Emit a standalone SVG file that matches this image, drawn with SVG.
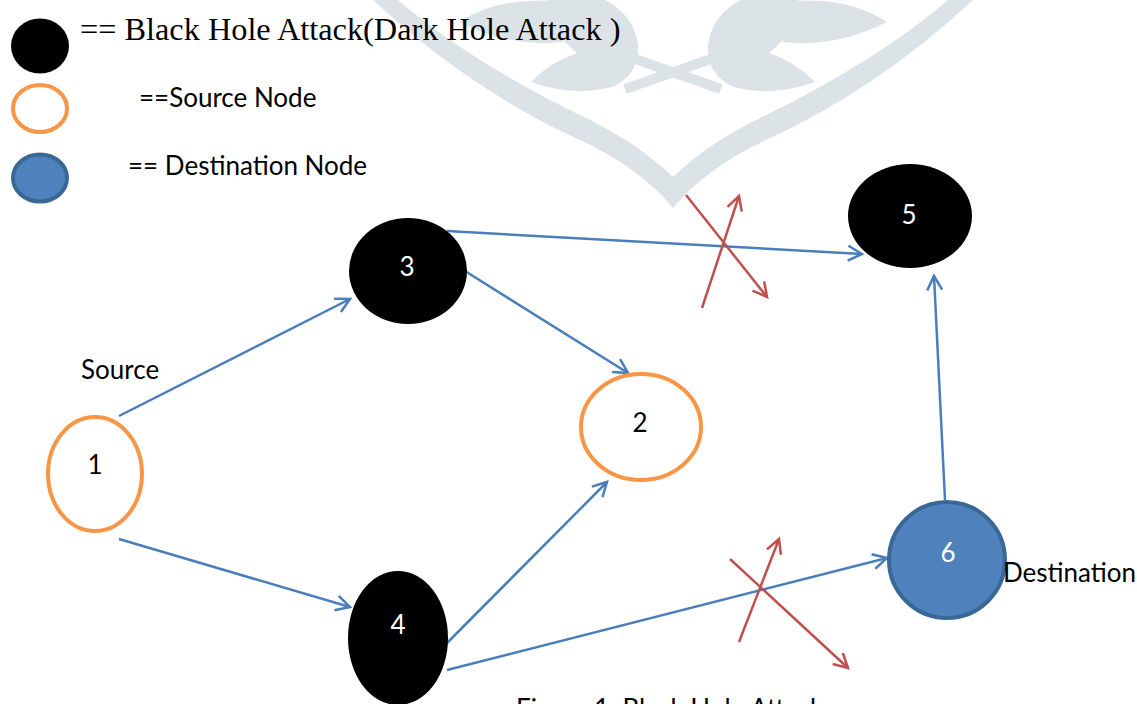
<svg xmlns="http://www.w3.org/2000/svg" width="1137" height="704" viewBox="0 0 1137 704">
  <style>
    .lbl { font-family: Lato, "Liberation Sans", sans-serif; font-size: 26px; fill: #000; }
    .num { font-family: Lato, "Liberation Sans", sans-serif; font-size: 26px; text-anchor: middle; }
    .serif { font-family: "Liberation Serif", "Times New Roman", serif; font-size: 32.3px; fill: #000; }
    .blackhole { fill: #000; }
    .source { fill: #fff; stroke: #F79646; stroke-width: 4; }
    .dest { fill: #4F81BD; stroke: #3A6896; stroke-width: 4; }
    .link { stroke: #4A7EBB; stroke-width: 2.5; fill: none; marker-end: url(#arrowBlue); }
    .cut { stroke: #C0504D; stroke-width: 2.5; fill: none; marker-end: url(#arrowRed); }
    .wm { fill: #DCE3E7; }
  </style>
  <defs>
    <marker id="arrowBlue" markerUnits="userSpaceOnUse" viewBox="0 0 20 20" markerWidth="20" markerHeight="20" refX="17" refY="10" orient="auto" overflow="visible">
      <path d="M3,2.5 L17,10 L3,17.5" fill="none" stroke="#4A7EBB" stroke-width="2.5"/>
    </marker>
    <marker id="arrowRed" markerUnits="userSpaceOnUse" viewBox="0 0 20 20" markerWidth="20" markerHeight="20" refX="17" refY="10" orient="auto" overflow="visible">
      <path d="M3,2.5 L17,10 L3,17.5" fill="none" stroke="#C0504D" stroke-width="2.5"/>
    </marker>
    <!-- one half of the background ornament; mirrored for the other half -->
    <g id="ornamentHalf">
      <path class="wm" d="M373,0 Q470,90 580,140 Q640,168 673,208 L673,177 Q640,145 590,120 Q470,62 398,0 Z"/>
      <path class="wm" d="M531,82 Q575,98 615,86 Q640,72 638,45 Q634,15 605,0 L548,0 Q548,30 577,53 Q550,62 531,82 Z"/>
      <path class="wm" d="M459,22 Q500,-5 565,2 L563,42 Q510,48 459,22 Z"/>
      <line x1="632" y1="58" x2="721" y2="89" stroke="#DCE3E7" stroke-width="10"/>
    </g>
  </defs>

  <rect width="1137" height="704" fill="#fff"/>

  <!-- background ornament -->
  <g id="ornament">
    <use href="#ornamentHalf"/>
    <use href="#ornamentHalf" transform="translate(1346,0) scale(-1,1)"/>
  </g>

  <!-- legend -->
  <g id="legend">
    <ellipse class="blackhole" cx="40" cy="46" rx="29" ry="27.5"/>
    <text class="serif" x="80" y="40">== Black Hole Attack(Dark Hole Attack )</text>
    <ellipse class="source" cx="40" cy="108.5" rx="27" ry="23.5"/>
    <text class="lbl" x="139" y="107">==Source Node</text>
    <ellipse class="dest" cx="40" cy="178" rx="27" ry="23.5"/>
    <text class="lbl" x="128" y="175">== Destination Node</text>
  </g>

  <!-- connectors -->
  <g id="connectors">
    <line class="link" x1="119" y1="416" x2="350" y2="299"/>
    <line class="link" x1="119" y1="539" x2="350" y2="607"/>
    <line class="link" x1="447" y1="231" x2="862" y2="254"/>
    <line class="link" x1="465" y1="271" x2="628" y2="373"/>
    <line class="link" x1="447" y1="643" x2="607" y2="482"/>
    <line class="link" x1="447" y1="670" x2="887" y2="558"/>
    <line class="link" x1="945" y1="500" x2="934" y2="276"/>
    <!-- broken routes -->
    <line class="cut" x1="686" y1="195" x2="767" y2="297"/>
    <line class="cut" x1="702" y1="308" x2="739" y2="196"/>
    <line class="cut" x1="730" y1="559" x2="848" y2="668"/>
    <line class="cut" x1="739" y1="642" x2="779" y2="539"/>
  </g>

  <!-- nodes -->
  <g id="node1">
    <ellipse class="source" cx="95" cy="474" rx="47" ry="57"/>
    <text class="num" x="95" y="474" fill="#000">1</text>
  </g>
  <g id="node2">
    <ellipse class="source" cx="641" cy="427" rx="60" ry="53"/>
    <text class="num" x="640" y="432" fill="#000">2</text>
  </g>
  <g id="node3">
    <ellipse class="blackhole" cx="408" cy="271" rx="59" ry="53"/>
    <text class="num" x="407" y="276" fill="#fff">3</text>
  </g>
  <g id="node4">
    <ellipse class="blackhole" cx="398" cy="638" rx="50" ry="67"/>
    <text class="num" x="398" y="634" fill="#fff">4</text>
  </g>
  <g id="node5">
    <ellipse class="blackhole" cx="910" cy="216" rx="62" ry="52"/>
    <text class="num" x="909" y="224" fill="#fff">5</text>
  </g>
  <g id="node6">
    <ellipse class="dest" cx="947" cy="560" rx="58" ry="58"/>
    <text class="num" x="948" y="562" fill="#fff">6</text>
  </g>

  <!-- labels -->
  <text class="lbl" x="81" y="379">Source</text>
  <text class="lbl" x="1003" y="582">Destination</text>
  <text class="lbl" x="516" y="718">Figure 1: Black Hole Attack</text>
</svg>
